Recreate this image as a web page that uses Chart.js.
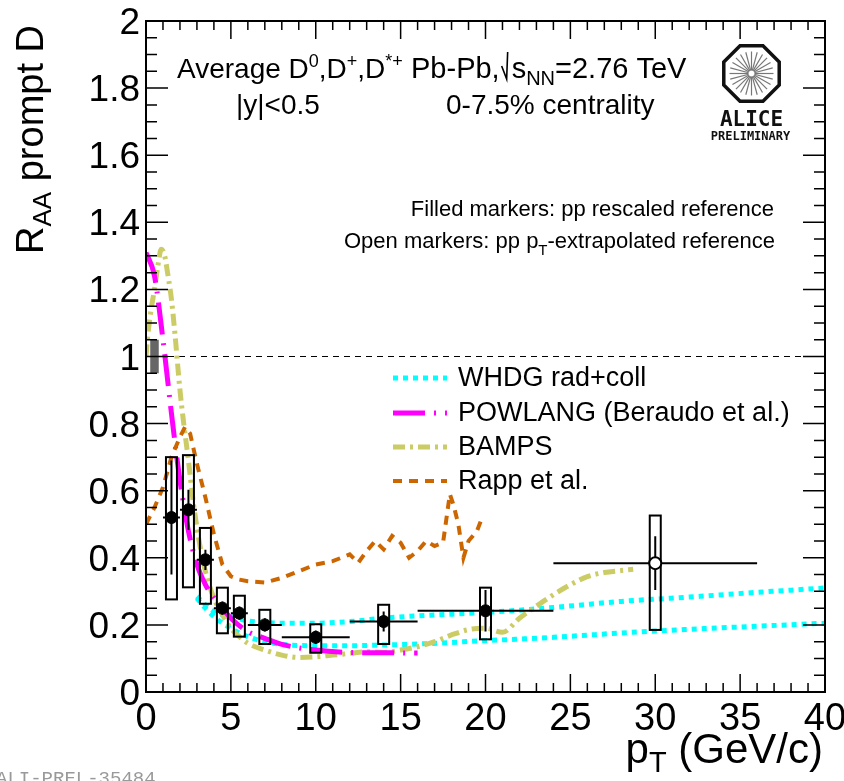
<!DOCTYPE html>
<html>
<head>
<meta charset="utf-8">
<script src="https://cdn.jsdelivr.net/npm/chart.js@4.4.0/dist/chart.umd.min.js"></script>
<style>
  body { margin: 0; background: #fff; }
  #wrap { width: 844px; height: 781px; }
</style>
</head>
<body>
<div id="wrap"><canvas id="raaChart" width="844" height="781"></canvas></div>
<script>
// measured D-meson RAA (0-7.5%)
const ptBins = [1.5, 2.5, 3.5, 4.5, 5.5, 7, 10, 14, 20, 30];
const ptLow = [1, 2, 3, 4, 5, 6, 8, 12, 16, 24];
const ptHigh = [2, 3, 4, 5, 6, 8, 12, 16, 24, 36];
const raaValues = [0.52, 0.543, 0.394, 0.25, 0.235, 0.2, 0.163, 0.21, 0.242, 0.384];
const statErr = [0.17, 0.06, 0.03, 0.02, 0.02, 0.02, 0.02, 0.03, 0.062, 0.08];
const systHigh = [0.70, 0.706, 0.489, 0.311, 0.287, 0.245, 0.202, 0.26, 0.311, 0.526];
const systLow = [0.276, 0.312, 0.263, 0.175, 0.165, 0.143, 0.117, 0.143, 0.157, 0.185];
const openMarker = [false, false, false, false, false, false, false, false, false, true];
// normalisation uncertainty box: pt from, pt to, raa from, raa to
const normBox = [0.25, 0.75, 0.95, 1.05];

// model curves
const whdgUpperPt = [3, 3.5, 4, 5, 6, 7, 8, 10, 12, 14, 16, 20, 24, 28, 32, 36, 40];
const whdgUpper = [0.285, 0.26, 0.24, 0.225, 0.212, 0.207, 0.205, 0.205, 0.21, 0.22, 0.227, 0.237, 0.252, 0.27, 0.283, 0.297, 0.31];
const whdgLowerPt = [3, 3.5, 4, 5, 6, 7, 8, 10, 12, 14, 16, 20, 24, 28, 32, 36, 40];
const whdgLower = [0.28, 0.25, 0.225, 0.19, 0.165, 0.15, 0.142, 0.138, 0.138, 0.14, 0.143, 0.153, 0.163, 0.176, 0.187, 0.196, 0.205];

const powlangPt = [0, 0.5, 1, 1.5, 2, 2.5, 3, 3.5, 4, 4.5, 5, 6, 7, 8, 10, 12, 14, 16];
const powlang = [1.31, 1.24, 1.05, 0.83, 0.63, 0.48, 0.38, 0.32, 0.28, 0.25, 0.22, 0.18, 0.16, 0.142, 0.125, 0.118, 0.117, 0.116];

const bampsPt = [0, 0.1, 0.3, 0.5, 0.7, 0.9, 1.1, 1.3, 1.5, 1.7, 2.0, 2.2, 2.5, 2.8, 3.2, 3.6, 4.0, 4.5, 5.0, 5.5, 6.0, 7.0, 8.0, 9.0, 10, 11, 12, 13, 14, 15, 16, 17, 18, 19, 20, 21, 22, 23, 24, 25, 26, 27, 28, 28.7];
const bamps = [1.0, 1.06, 1.14, 1.2, 1.27, 1.32, 1.3, 1.24, 1.17, 1.07, 0.9, 0.81, 0.69, 0.56, 0.43, 0.34, 0.28, 0.23, 0.19, 0.165, 0.145, 0.125, 0.11, 0.103, 0.105, 0.11, 0.115, 0.12, 0.118, 0.125, 0.135, 0.15, 0.17, 0.186, 0.19, 0.178, 0.22, 0.256, 0.29, 0.32, 0.344, 0.356, 0.362, 0.366];

const rappPt = [0, 0.5, 1, 1.5, 2, 2.3, 2.6, 3, 3.5, 4, 4.5, 5, 5.5, 6, 7, 8, 9, 10, 11, 11.5, 12, 12.5, 13, 13.5, 14, 14.5, 15, 15.5, 16, 16.5, 17, 17.5, 17.9, 18.1, 18.4, 18.7, 19, 19.5, 19.8];
const rapp = [0.5, 0.55, 0.61, 0.70, 0.76, 0.79, 0.77, 0.68, 0.58, 0.47, 0.38, 0.345, 0.335, 0.33, 0.326, 0.34, 0.36, 0.38, 0.39, 0.40, 0.41, 0.385, 0.42, 0.45, 0.425, 0.465, 0.445, 0.40, 0.42, 0.45, 0.435, 0.445, 0.59, 0.56, 0.5, 0.40, 0.45, 0.48, 0.52];

// axes
const xTicks = [0, 5, 10, 15, 20, 25, 30, 35, 40];
const xTickLabels = ['0', '5', '10', '15', '20', '25', '30', '35', '40'];
const yTicks = [0, 0.2, 0.4, 0.6, 0.8, 1, 1.2, 1.4, 1.6, 1.8, 2];
const yTickLabels = ['0', '0.2', '0.4', '0.6', '0.8', '1', '1.2', '1.4', '1.6', '1.8', '2'];

const legendNames = ['WHDG rad+coll', 'POWLANG (Beraudo et al.)', 'BAMPS', 'Rapp et al.'];

const FONT = '"Liberation Sans", Arial, Helvetica, sans-serif';
const colors = {
  whdg: '#00ffff',
  powlang: '#ff00ff',
  bamps: '#cccc66',
  rapp: '#cc6600'
};
const styles = {
  whdg: { width: 5, dash: [5, 5] },
  powlang: { width: 5, dash: [32, 9, 2, 9] },
  bamps: { width: 5, dash: [12, 5, 3, 5] },
  rapp: { width: 4, dash: [9, 7] }
};

function toPoints(xs, ys) {
  return xs.map((x, i) => ({ x: x, y: ys[i] }));
}

function modelDataset(label, xs, ys, key, order) {
  return {
    label: label,
    data: toPoints(xs, ys),
    showLine: true,
    borderColor: colors[key],
    borderWidth: styles[key].width,
    borderDash: styles[key].dash,
    pointRadius: 0,
    fill: false,
    cubicInterpolationMode: key === 'rapp' ? 'default' : 'monotone',
    tension: key === 'rapp' ? 0 : 0.4,
    order: order
  };
}

// draw text made of pieces: [text, fontSize, dy]
function richText(ctx, x, y, parts, align) {
  let total = 0;
  parts.forEach(p => {
    ctx.font = p[1] + 'px ' + FONT;
    total += ctx.measureText(p[0]).width;
  });
  let cx = align === 'right' ? x - total : x;
  ctx.textAlign = 'left';
  ctx.textBaseline = 'alphabetic';
  parts.forEach(p => {
    ctx.font = p[1] + 'px ' + FONT;
    ctx.fillText(p[0], cx, y + (p[2] || 0));
    cx += ctx.measureText(p[0]).width;
  });
  return cx;
}

function drawLogo(ctx, cx, cy) {
  ctx.save();
  const R = 30;
  ctx.beginPath();
  for (let k = 0; k < 8; k++) {
    const a = Math.PI / 8 + k * Math.PI / 4;
    const px = cx + R * Math.cos(a), py = cy + R * Math.sin(a);
    if (k === 0) ctx.moveTo(px, py); else ctx.lineTo(px, py);
  }
  ctx.closePath();
  ctx.lineWidth = 3.5;
  ctx.strokeStyle = '#111';
  ctx.stroke();
  ctx.strokeStyle = '#777';
  ctx.lineWidth = 1.2;
  for (let k = 0; k < 24; k++) {
    const a = k * Math.PI / 12;
    ctx.beginPath();
    ctx.moveTo(cx + 3 * Math.cos(a), cy + 3 * Math.sin(a));
    ctx.lineTo(cx + 22 * Math.cos(a), cy + 22 * Math.sin(a));
    ctx.stroke();
  }
  ctx.fillStyle = '#111';
  ctx.textAlign = 'center';
  ctx.textBaseline = 'alphabetic';
  ctx.font = 'bold 21px "DejaVu Sans Mono", monospace';
  ctx.fillText('ALICE', cx, cy + 52);
  ctx.font = 'bold 12px "DejaVu Sans Mono", monospace';
  ctx.fillText('PRELIMINARY', cx - 1, cy + 66);
  ctx.restore();
}

const rootStyle = {
  id: 'rootStyle',
  beforeDatasetsDraw(chart) {
    const ctx = chart.ctx, xs = chart.scales.x, ys = chart.scales.y;
    ctx.save();
    // unity line
    ctx.strokeStyle = '#000';
    ctx.lineWidth = 1;
    ctx.setLineDash([6, 5]);
    ctx.beginPath();
    ctx.moveTo(xs.getPixelForValue(0), ys.getPixelForValue(1));
    ctx.lineTo(xs.getPixelForValue(40), ys.getPixelForValue(1));
    ctx.stroke();
    ctx.setLineDash([]);
    // normalisation box
    ctx.fillStyle = '#666';
    const bx0 = xs.getPixelForValue(normBox[0]), bx1 = xs.getPixelForValue(normBox[1]);
    const by0 = ys.getPixelForValue(normBox[3]), by1 = ys.getPixelForValue(normBox[2]);
    ctx.fillRect(bx0, by0, bx1 - bx0, by1 - by0);
    ctx.restore();
  },
  beforeDatasetDraw(chart, args) {
    if (args.meta.label !== 'data') return;
    const ctx = chart.ctx, xs = chart.scales.x, ys = chart.scales.y;
    ctx.save();
    ctx.strokeStyle = '#000';
    ctx.lineWidth = 2;
    ptBins.forEach((pt, i) => {
      const px = xs.getPixelForValue(pt);
      const py = ys.getPixelForValue(raaValues[i]);
      // systematic box
      const top = ys.getPixelForValue(systHigh[i]), bot = ys.getPixelForValue(systLow[i]);
      ctx.strokeRect(px - 5.5, top, 11, bot - top);
      // bin width
      ctx.beginPath();
      ctx.moveTo(xs.getPixelForValue(ptLow[i]), py);
      ctx.lineTo(xs.getPixelForValue(ptHigh[i]), py);
      // statistical error
      ctx.moveTo(px, ys.getPixelForValue(raaValues[i] + statErr[i]));
      ctx.lineTo(px, ys.getPixelForValue(raaValues[i] - statErr[i]));
      ctx.stroke();
    });
    ctx.restore();
  },
  afterDraw(chart) {
    const ctx = chart.ctx, xs = chart.scales.x, ys = chart.scales.y, a = chart.chartArea;
    ctx.save();
    // frame and ticks
    ctx.strokeStyle = '#000';
    ctx.lineWidth = 1.5;
    ctx.beginPath();
    for (let v = 0; v <= 40; v++) {
      const px = xs.getPixelForValue(v);
      const len = v % 5 === 0 ? 18 : 9;
      ctx.moveTo(px, a.bottom); ctx.lineTo(px, a.bottom - len);
      ctx.moveTo(px, a.top); ctx.lineTo(px, a.top + len);
    }
    for (let k = 0; k <= 40; k++) {
      const py = ys.getPixelForValue(k * 0.05);
      const len = k % 4 === 0 ? 22 : 11;
      ctx.moveTo(a.left, py); ctx.lineTo(a.left + len, py);
      ctx.moveTo(a.right, py); ctx.lineTo(a.right - len, py);
    }
    ctx.stroke();
    ctx.lineWidth = 2;
    ctx.strokeRect(a.left, a.top, a.right - a.left, a.bottom - a.top);

    // tick labels
    ctx.fillStyle = '#000';
    ctx.font = '38px ' + FONT;
    ctx.textAlign = 'center';
    ctx.textBaseline = 'alphabetic';
    xTicks.forEach((v, i) => ctx.fillText(xTickLabels[i], xs.getPixelForValue(v), a.bottom + 38));
    ctx.font = '37px ' + FONT;
    ctx.textAlign = 'right';
    yTicks.forEach((v, i) => ctx.fillText(yTickLabels[i], a.left - 6, ys.getPixelForValue(v) + 13));

    // axis titles
    richText(ctx, a.right - 2, 763, [['p', 42], ['T', 29, 9], [' (GeV/c)', 42]], 'right');
    ctx.save();
    ctx.translate(43, 25);
    ctx.rotate(-Math.PI / 2);
    richText(ctx, 0, 0, [['R', 38], ['AA', 26, 8], [' prompt D', 38]], 'right');
    ctx.restore();

    // header text
    richText(ctx, 177, 78, [['Average D', 28], ['0', 18, -11], [',D', 28], ['+', 18, -11], [',D', 28], ['*+', 18, -11]]);
    ctx.save();
    ctx.beginPath();
    ctx.rect(405, 30, 287, 60);
    ctx.clip();
    let x = richText(ctx, 411, 78, [['Pb-Pb,', 29]]);
    ctx.lineWidth = 1.6;
    ctx.beginPath();
    ctx.moveTo(x + 2, 66);
    ctx.lineTo(x + 7, 79);
    ctx.lineTo(x + 8, 52);
    ctx.stroke();
    richText(ctx, x + 12, 78, [['s', 29], ['NN', 20, 7], ['=2.76 TeV', 29]]);
    ctx.restore();
    richText(ctx, 236, 114, [['|y|<0.5', 28]]);
    richText(ctx, 446, 114, [['0-7.5% centrality', 28]]);

    drawLogo(ctx, 751.5, 73.5);

    richText(ctx, 774, 216, [['Filled markers: pp rescaled reference', 22]], 'right');
    richText(ctx, 775, 248, [['Open markers: pp p', 22], ['T', 15, 7], ['-extrapolated reference', 22]], 'right');

    // legend
    const keys = ['whdg', 'powlang', 'bamps', 'rapp'];
    const rows = [378, 413, 447, 481];
    keys.forEach((k, i) => {
      ctx.strokeStyle = colors[k];
      ctx.lineWidth = styles[k].width;
      ctx.setLineDash(styles[k].dash);
      ctx.beginPath();
      ctx.moveTo(393, rows[i]);
      ctx.lineTo(447, rows[i]);
      ctx.stroke();
      ctx.setLineDash([]);
      ctx.fillStyle = '#000';
      ctx.font = '27px ' + FONT;
      ctx.textAlign = 'left';
      ctx.textBaseline = 'middle';
      ctx.fillText(legendNames[i], 458, rows[i] + 1);
    });

    // figure id
    ctx.fillStyle = '#999';
    ctx.font = '19px "Liberation Mono", "DejaVu Sans Mono", monospace';
    ctx.textAlign = 'left';
    ctx.textBaseline = 'alphabetic';
    ctx.fillText('ALI-PREL-35484', -4, 784);
    ctx.restore();
  }
};

const ctx = document.getElementById('raaChart');
new Chart(ctx, {
  type: 'scatter',
  data: {
    datasets: [
      {
        label: 'data',
        data: toPoints(ptBins, raaValues),
        pointRadius: 6,
        pointHoverRadius: 6,
        pointBackgroundColor: openMarker.map(o => o ? '#fff' : '#000'),
        pointBorderColor: '#000',
        pointBorderWidth: openMarker.map(o => o ? 2 : 1),
        showLine: false,
        order: 0
      },
      modelDataset('WHDG upper', whdgUpperPt, whdgUpper, 'whdg', 4),
      modelDataset('WHDG lower', whdgLowerPt, whdgLower, 'whdg', 4),
      modelDataset('POWLANG', powlangPt, powlang, 'powlang', 2),
      modelDataset('BAMPS', bampsPt, bamps, 'bamps', 3),
      modelDataset('Rapp', rappPt, rapp, 'rapp', 1)
    ]
  },
  options: {
    responsive: false,
    animation: false,
    events: [],
    layout: { padding: { left: 0, right: 19, top: 21, bottom: 0 } },
    scales: {
      x: {
        type: 'linear', min: 0, max: 40,
        grid: { display: false },
        border: { display: false },
        ticks: { display: false },
        afterFit(scale) { scale.height = 89; }
      },
      y: {
        type: 'linear', min: 0, max: 2,
        grid: { display: false },
        border: { display: false },
        ticks: { display: false },
        afterFit(scale) { scale.width = 146; }
      }
    },
    plugins: {
      legend: { display: false },
      tooltip: { enabled: false }
    }
  },
  plugins: [rootStyle]
});
</script>
</body>
</html>
